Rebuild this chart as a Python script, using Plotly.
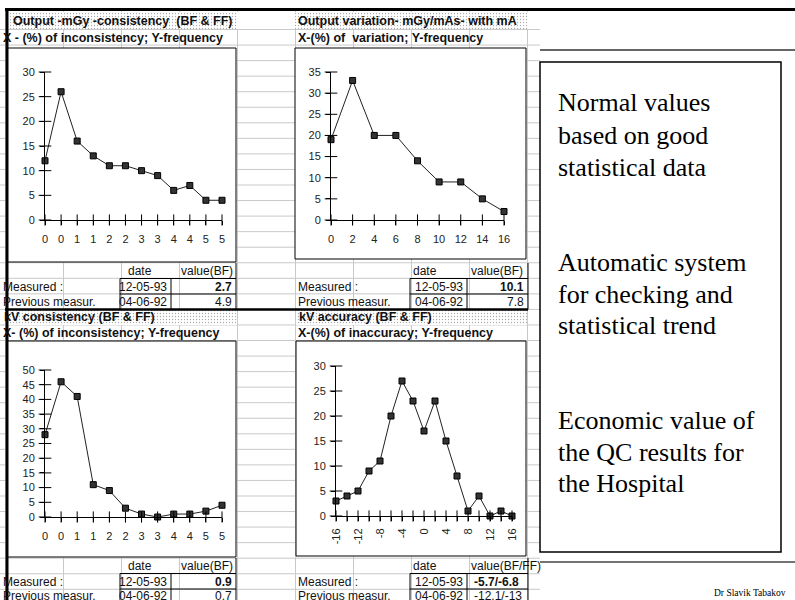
import plotly.graph_objects as go

W, H = 795, 600

# ---------------- data ----------------
tl_title = "Output -mGy -consistency\u00a0\u00a0(BF & FF)"
tl_sub = "X - (%) of inconsistency; Y-frequency"
tl_labels = ["0", "0", "1", "1", "2", "2", "3", "3", "4", "4", "5", "5"]
tl_values = [12, 26, 16, 13, 11, 11, 10, 9, 6, 7, 4, 4]

tr_title = "Output variation- mGy/mAs- with mA"
tr_sub = "X-(%) of\u00a0\u00a0variation; Y-frequency"
tr_x = [0, 2, 4, 6, 8, 10, 12, 14, 16]
tr_values = [19, 33, 20, 20, 14, 9, 9, 5, 2]

bl_title = "kV consistency (BF & FF)"
bl_sub = "X- (%) of inconsistency; Y-frequency"
bl_labels = ["0", "0", "1", "1", "2", "2", "3", "3", "4", "4", "5", "5"]
bl_values = [28, 46, 41, 11, 9, 3, 1, 0, 1, 1, 2, 4]

br_title = "kV accuracy (BF & FF)"
br_sub = "X-(%) of inaccuracy; Y-frequency"
br_x = [-16, -14, -12, -10, -8, -6, -4, -2, 0, 2, 4, 6, 8, 10, 12, 14, 16]
br_values = [3, 4, 5, 9, 11, 20, 27, 23, 17, 23, 15, 8, 1, 4, 0, 1, 0]
br_labels = ["-16", "", "-12", "", "-8", "", "-4", "", "0", "", "4", "", "8", "", "12", "", "16"]

row_names = ["Measured :", "Previous measur."]
tl_table = {"head": "value(BF)", "dates": ["12-05-93", "04-06-92"], "vals": ["2.7", "4.9"]}
tr_table = {"head": "value(BF)", "dates": ["12-05-93", "04-06-92"], "vals": ["10.1", "7.8"]}
bl_table = {"head": "value(BF)", "dates": ["12-05-93", "04-06-92"], "vals": ["0.9", "0.7"]}
br_table = {"head": "value(BF/FF)", "dates": ["12-05-93", "04-06-92"], "vals": ["-5.7/-6.8", "-12.1/-13"]}

side_text = [["Normal values", "based on good", "statistical data"],
             ["Automatic system", "for checking and", "statistical trend"],
             ["Economic value of", "the QC results for", "the Hospital"]]
author = "Dr Slavik Tabakov"


# ---------------- helpers ----------------
def px(x):
    return x / W


def py(y):
    return 1 - y / H


shapes = []
annotations = []


def add_line(x0, y0, x1, y1, color="#000", width=1, layer="below"):
    shapes.append(dict(type="line", xref="paper", yref="paper",
                       x0=px(x0), y0=py(y0), x1=px(x1), y1=py(y1),
                       line=dict(color=color, width=width), layer=layer))


def add_rect(x0, y0, x1, y1, fill="rgba(0,0,0,0)", color="#000", width=1, layer="below"):
    shapes.append(dict(type="rect", xref="paper", yref="paper",
                       x0=px(x0), y0=py(y0), x1=px(x1), y1=py(y1),
                       fillcolor=fill, line=dict(color=color, width=width), layer=layer))


def add_text(x, y, text, size=12, anchor="left", bold=False, family="Arial, Liberation Sans, sans-serif",
             color="#111"):
    if bold:
        text = "<b>" + text + "</b>"
    annotations.append(dict(x=px(x), y=py(y), xref="paper", yref="paper", text=text,
                            showarrow=False, xanchor=anchor, yanchor="middle", borderpad=0,
                            font=dict(size=size, family=family, color=color)))


fig = go.Figure()

# ---------------- spreadsheet grid ----------------
grid_color = "#c9c9c9"
k = 0
while True:
    yy = 29.5 + 15.55 * k
    if yy > H:
        break
    add_line(0, yy, 540, yy, grid_color, 1)
    k += 1
for j in range(10):
    xx = 5.5 + 58 * j
    add_line(xx, 10, xx, H, grid_color, 1)

# chart boxes
boxes = [(7, 48, 236, 262), (295, 48, 526, 259), (7, 341, 236, 557), (296, 341, 526, 556)]
for b in boxes:
    add_rect(*b, fill="white", color="#000", width=1)

# ---------------- charts ----------------
panels = [
    dict(x=list(range(len(tl_values))), y=tl_values, tickvals=list(range(len(tl_labels))), ticktext=tl_labels,
         xr=[0, len(tl_values) - 1], yr=[0, 30], xd=(45, 222), yd=(72, 220), angle=0, standoff=5),
    dict(x=tr_x, y=tr_values, tickvals=tr_x, ticktext=[str(v) for v in tr_x],
         xr=[0, 16], yr=[0, 35], xd=(331, 504), yd=(72, 220), angle=0, standoff=5),
    dict(x=list(range(len(bl_values))), y=bl_values, tickvals=list(range(len(bl_labels))), ticktext=bl_labels,
         xr=[0, len(bl_values) - 1], yr=[0, 50], xd=(45, 222), yd=(370, 517), angle=0, standoff=5),
    dict(x=br_x, y=br_values, tickvals=br_x, ticktext=br_labels,
         xr=[-16, 16], yr=[0, 30], xd=(336, 512), yd=(366, 516), angle=-90, standoff=3),
]

tick_font = dict(size=11, family="Arial, Liberation Sans, sans-serif", color="#222")
layout_axes = {}
for i, p in enumerate(panels, start=1):
    xa = "x" if i == 1 else f"x{i}"
    ya = "y" if i == 1 else f"y{i}"
    fig.add_trace(go.Scatter(x=p["x"], y=p["y"], mode="lines+markers", xaxis=xa, yaxis=ya,
                             line=dict(color="#222", width=1),
                             marker=dict(symbol="square", size=6, color="#333",
                                         line=dict(color="#000", width=1)),
                             cliponaxis=False, showlegend=False, hoverinfo="skip"))
    # inner halves of crossing tick marks
    yt = list(range(p["yr"][0], p["yr"][1] + 1, 5))
    fig.add_trace(go.Scatter(x=p["tickvals"], y=[p["yr"][0]] * len(p["tickvals"]), mode="markers",
                             xaxis=xa, yaxis=ya, cliponaxis=False, showlegend=False, hoverinfo="skip",
                             marker=dict(symbol="line-ns", size=8, line=dict(color="#000", width=1))))
    fig.add_trace(go.Scatter(x=[p["xr"][0]] * len(yt), y=yt, mode="markers",
                             xaxis=xa, yaxis=ya, cliponaxis=False, showlegend=False, hoverinfo="skip",
                             marker=dict(symbol="line-ew", size=9, line=dict(color="#000", width=1))))
    xkey = "xaxis" if i == 1 else f"xaxis{i}"
    ykey = "yaxis" if i == 1 else f"yaxis{i}"
    layout_axes[xkey] = dict(domain=[px(p["xd"][0]), px(p["xd"][1])], range=p["xr"], anchor=ya,
                             showline=True, linecolor="#000", linewidth=1, ticks="outside", ticklen=4,
                             tickcolor="#000", tickmode="array", tickvals=p["tickvals"], ticktext=p["ticktext"],
                             tickangle=p["angle"], tickfont=tick_font, showgrid=False, zeroline=False,
                             ticklabelstandoff=p["standoff"], fixedrange=True, automargin=False)
    layout_axes[ykey] = dict(domain=[py(p["yd"][1]), py(p["yd"][0])], range=p["yr"], anchor=xa,
                             showline=True, linecolor="#000", linewidth=1, ticks="outside", ticklen=4,
                             tickcolor="#000", tickmode="linear", tick0=0, dtick=5, tickfont=tick_font,
                             showgrid=False, zeroline=False, ticklabelstandoff=3, fixedrange=True,
                             automargin=False)

# dotted title backgrounds on a full-page overlay axis
layout_axes["xaxis5"] = dict(domain=[0, 1], range=[0, W], visible=False, anchor="y5", fixedrange=True,
                             automargin=False)
layout_axes["yaxis5"] = dict(domain=[0, 1], range=[H, 0], visible=False, anchor="x5", fixedrange=True,
                             automargin=False)
dotted = [(10, 12, 238, 29), (295, 12, 528, 29), (7, 310, 237, 325), (296, 310, 527, 325)]
for (x0, y0, x1, y1) in dotted:
    fig.add_trace(go.Scatter(x=[x0, x1, x1, x0, x0], y=[y0, y0, y1, y1, y0], mode="lines",
                             fill="toself", xaxis="x5", yaxis="y5", line=dict(width=0, color="rgba(0,0,0,0)"),
                             fillcolor="white",
                             fillpattern=dict(shape=".", fgcolor="#555", bgcolor="white", size=3, solidity=0.15),
                             showlegend=False, hoverinfo="skip"))

# ---------------- titles ----------------
title_font = 12.5
add_text(12, 21, tl_title, title_font, bold=True)
add_text(2, 38, tl_sub, title_font, bold=True)
add_text(297, 21, tr_title, title_font, bold=True)
add_text(297, 38, tr_sub, title_font, bold=True)
add_text(3, 317, bl_title, title_font, bold=True)
add_text(2, 333, bl_sub, title_font, bold=True)
add_text(298, 317, br_title, title_font, bold=True)
add_text(297, 333, br_sub, title_font, bold=True)


# ---------------- tables ----------------
def table(tb, left, top, box_l, div, box_r, date_c, head_x, head_anchor, val_x, val_anchor, last_y=None):
    rows = [top, top + 15.5, top + 31]  # row tops
    bottom = top + 46.5
    add_rect(box_l, rows[1], box_r, bottom, color="#000", width=1)
    add_line(div, rows[1], div, bottom, "#000", 1)
    add_line(box_l, rows[2], box_r, rows[2], "#000", 1)
    add_line(box_r, rows[0], box_r, rows[1], "#000", 1)
    add_text(date_c, rows[0] + 7.5, "date", 12, anchor="center")
    add_text(head_x, rows[0] + 7.5, tb["head"], 12, anchor=head_anchor)
    for r in range(2):
        yc = rows[r + 1] + 8
        if r == 1 and last_y is not None:
            yc = last_y
        add_text(left, yc, row_names[r], 12)
        add_text(div - 3, yc, tb["dates"][r], 12, anchor="right")
        add_text(val_x, yc, tb["vals"][r], 12, anchor=val_anchor, bold=(r == 0))


table(tl_table, 2, 263, 120, 171, 236, 140, 234, "right", 233, "right")
table(tr_table, 297, 263, 410, 467, 528, 425, 524, "right", 525, "right")
table(bl_table, 2, 558, 120, 171, 236, 140, 234, "right", 233, "right", last_y=596)
table(br_table, 297, 558, 410, 467, 528, 425, 470, "left", 473, "left", last_y=596)

# ---------------- thick sheet borders ----------------
add_line(5, 9.5, W, 9.5, "#000", 3, layer="above")
add_line(7, 10, 7, H, "#000", 3, layer="above")
add_line(5, 309.5, 528, 309.5, "#000", 2.5, layer="above")

# ---------------- right slide panel ----------------
add_rect(540, 11, W, H, fill="white", color="rgba(0,0,0,0)", width=0, layer="above")
add_line(540, 50, W, 50, "#333", 1.5, layer="above")
add_rect(540, 62, 781, 552, color="#000", width=1.5, layer="above")
add_line(540, 562, W, 562, "#444", 1.5, layer="above")

serif = "Times New Roman, Liberation Serif, serif"
centers = [[103, 135, 167], [262, 294, 325], [420, 452, 483]]
for lines, ys in zip(side_text, centers):
    for t, yc in zip(lines, ys):
        add_text(557, yc, t, 26, family=serif, color="#000")
add_text(750, 593, author, 9.5, anchor="center", family=serif, color="#000")

fig.update_layout(width=W, height=H, margin=dict(l=0, r=0, t=0, b=0, pad=0, autoexpand=False), autosize=False,
                  paper_bgcolor="white", plot_bgcolor="rgba(0,0,0,0)",
                  shapes=shapes, annotations=annotations, showlegend=False, **layout_axes)

page_fix = ("var s=document.createElement('style');"
            "s.textContent='html,body{margin:0;padding:0;width:795px;height:600px;overflow:hidden;}';"
            "document.head.appendChild(s);")
fig.write_html("out.html", config={"displayModeBar": False, "responsive": False}, post_script=page_fix)
